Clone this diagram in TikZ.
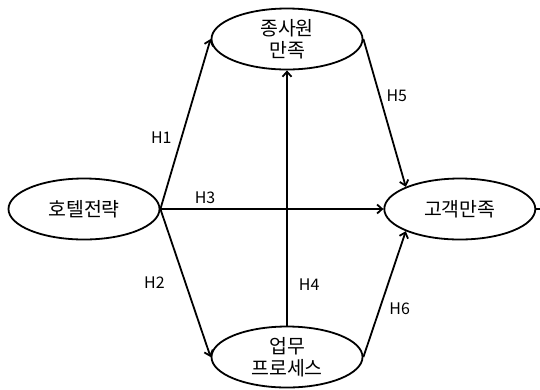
\documentclass[tikz,border=0pt]{standalone}
\usepackage{fontspec}
\setmainfont{Noto Sans CJK KR}
\usepackage{tikz}
\usetikzlibrary{positioning, shapes.geometric, arrows.meta}
\tikzset{
    factor/.style={draw, ellipse, line width=1.8bp, inner sep=0pt, minimum width=151bp, minimum height=61bp, align=center, font=\fontsize{19.5}{22}\selectfont},
    arrow/.style={-{Straight Barb[length=5bp, width=9bp]}, line width=1.8bp},
    hyp/.style={font=\fontsize{16}{18}\selectfont, inner sep=1bp}
}
\begin{document}
\begin{tikzpicture}[x=1bp, y=-1bp]
\useasboundingbox (0,0) rectangle (540,389);

% Nodes
\node[factor] (strategy) at (84,209) {호텔전략};
\node[factor, right=223bp of strategy] (customer) {고객만족};
\node[factor] (employee) at (287,39) {종사원\\만족};
\node[factor] (process) at (287,357) {업무\\프로세스};
\coordinate (edge) at (540,209);

% Hypotheses
\draw[arrow] (strategy.east) -- node[hyp, pos=0.42, left=8bp] {H1} (employee.west);
\draw[arrow] (strategy.east) -- node[hyp, pos=0.2, above=3bp] {H3} (customer.west);
\draw[arrow] (strategy.east) -- node[hyp, midway, left=19bp] {H2} (process.west);
\draw[arrow] (process.north) -- node[hyp, pos=0.16, right=10bp] {H4} (employee.south);
\draw[arrow] (employee.east) -- node[hyp, pos=0.385, right=5bp] {H5} (customer.north west);
\draw[arrow] (process.east) -- node[hyp, pos=0.38, right=8bp] {H6} (customer.south west);
\draw[line width=1.8bp] (customer.east) -- (edge);

\end{tikzpicture}
\end{document}
